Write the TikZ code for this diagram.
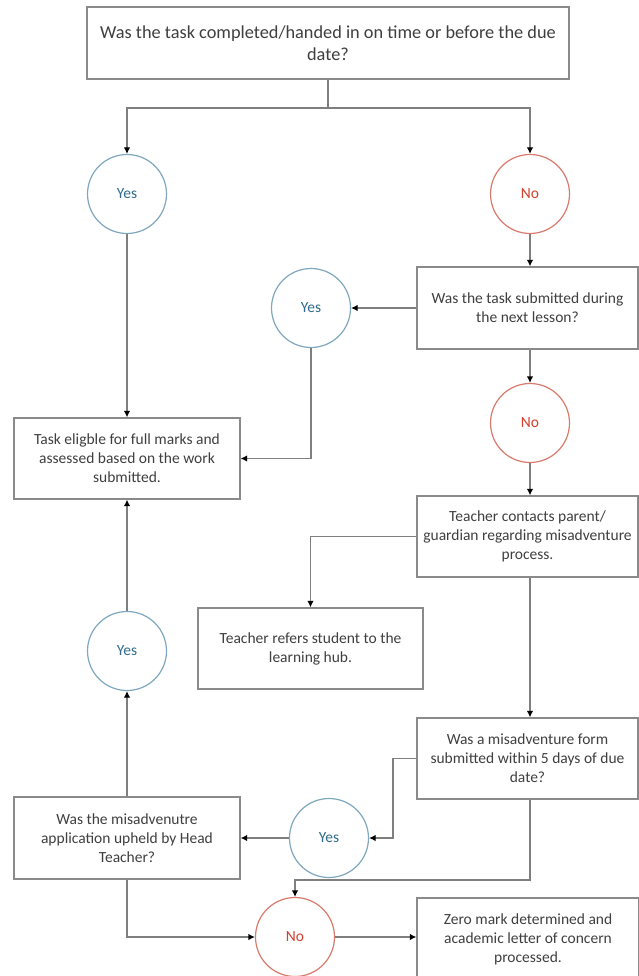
\documentclass[tikz,border=0pt]{standalone}
\usepackage{fontspec}
\setmainfont{Carlito}
\usetikzlibrary{arrows.meta}
\definecolor{linegray}{HTML}{7F7F7F}
\definecolor{boxgray}{HTML}{8A8A8A}
\definecolor{textgray}{HTML}{3F3F3F}
\definecolor{yesline}{HTML}{7FA7BE}
\definecolor{yestext}{HTML}{2F6C8C}
\definecolor{noline}{HTML}{DA7A6C}
\definecolor{notext}{HTML}{D23F2C}
\begin{document}
\begin{tikzpicture}[x=1pt,y=-1pt,
  box/.style={draw=boxgray, line width=1.3pt, fill=white, align=center, inner sep=0pt,
    text=textgray, font={\fontsize{15.5}{19}\selectfont}},
  rbox/.style={box, minimum width=221pt, minimum height=82pt},
  lbox/.style={box, minimum width=226pt, minimum height=82pt},
  yesnode/.style={circle, draw=yesline, line width=1.2pt, fill=white, minimum size=79pt, inner sep=0pt,
    text=yestext, font={\fontsize{15.5}{19}\selectfont}},
  nonode/.style={circle, draw=noline, line width=1.2pt, fill=white, minimum size=79pt, inner sep=0pt,
    text=notext, font={\fontsize{15.5}{19}\selectfont}},
  conn/.style={draw=linegray, line width=1.2pt},
  arr/.style={conn, -{Latex[length=6.5pt,width=6.5pt,color=black]}}
]
\useasboundingbox (0,0) rectangle (639,976);
\clip (0,0) rectangle (639,976);

% nodes
\node[box, minimum width=482pt, minimum height=72pt, font={\fontsize{18.3}{22.5}\selectfont}] (top) at (328,43)
  {Was the task completed/handed in on time or before the due\\date?};
\node[yesnode] (yes1) at (127,194) {Yes};
\node[nonode] (no1) at (530,194) {No};
\node[rbox] (q2) at (527.5,308) {Was the task submitted during\\the next lesson?};
\node[yesnode] (yes2) at (311,308) {Yes};
\node[nonode] (no2) at (530,423) {No};
\node[lbox, minimum height=81pt] (elig) at (127,458.5)
  {Task eligble for full marks and\\assessed based on the work\\submitted.};
\node[rbox, minimum height=81pt] (contact) at (527.5,536.5)
  {Teacher contacts parent/\\guardian regarding misadventure\\process.};
\node[box, minimum width=225pt, minimum height=81pt] (refer) at (310.5,648.5)
  {Teacher refers student to the\\learning hub.};
\node[yesnode] (yes3) at (127,651) {Yes};
\node[rbox, minimum height=81pt] (form) at (527.5,758.5)
  {Was a misadventure form\\submitted within 5 days of due\\date?};
\node[lbox] (upheld) at (127,838)
  {Was the misadvenutre\\application upheld by Head\\Teacher?};
\node[yesnode] (yes4) at (329,838) {Yes};
\node[nonode] (no3) at (295,937) {No};
\node[box, minimum width=222pt, minimum height=82pt] (zero) at (528,939)
  {Zero mark determined and\\academic letter of concern\\processed.};

% helper coordinates
\coordinate (j1) at (328,108);
\coordinate (c1) at (393,758.5);
\coordinate (c2) at (530,880);

% connectors
\draw[conn] (top.south) -- (j1);
\draw[arr] (j1) -| (yes1.north);
\draw[arr] (j1) -| (no1.north);
\draw[arr] (yes1.south) -- (elig.north);
\draw[arr] (no1.south) -- (no1.south |- q2.north);
\draw[arr] (q2.west) -- (yes2.east);
\draw[arr] (yes2.south) |- (elig.east);
\draw[arr] (no1.south |- q2.south) -- (no2.north);
\draw[arr] (no2.south) -- (no2.south |- contact.north);
\draw[arr] (contact.west) -| (refer.north);
\draw[arr] (no2.south |- contact.south) -- (no2.south |- form.north);
\draw[arr] (form.west) -- (c1) |- (yes4.east);
\draw[arr] (yes4.west) -- (upheld.east);
\draw[arr] (upheld.north) -- (yes3.south);
\draw[arr] (yes3.north) -- (elig.south);
\draw[arr] (no2.south |- form.south) -- (c2) -| (no3.north);
\draw[arr] (upheld.south) |- (no3.west);
\draw[arr] (no3.east) -- (no3.east -| zero.west);
\end{tikzpicture}
\end{document}
